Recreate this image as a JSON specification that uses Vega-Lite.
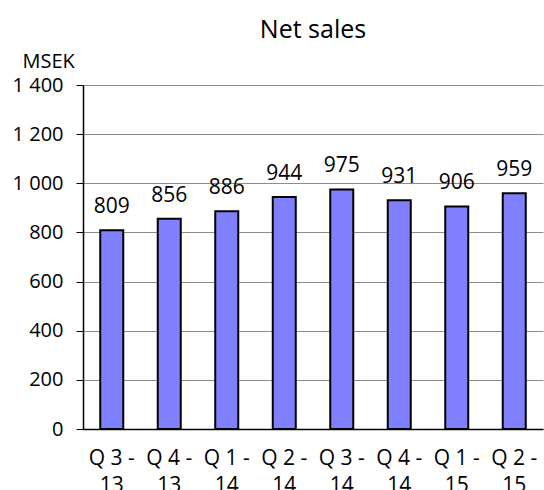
{
  "$schema": "https://vega.github.io/schema/vega-lite/v6.json",
  "autosize": "none",
  "width": 460,
  "height": 344,
  "padding": {"left": 83, "top": 85, "right": 1, "bottom": 61},
  "background": "white",
  "title": {"text": "Net sales", "font": "Open Sans", "fontSize": 25, "fontWeight": 500, "color": "#000000", "anchor": "middle", "frame": "group", "offset": 8},
  "data": {"values": [
    {"quarter": "Q 3 -|13", "sales": 809},
    {"quarter": "Q 4 -|13", "sales": 856},
    {"quarter": "Q 1 -|14", "sales": 886},
    {"quarter": "Q 2 -|14", "sales": 944},
    {"quarter": "Q 3 -|14", "sales": 975},
    {"quarter": "Q 4 -|14", "sales": 931},
    {"quarter": "Q 1 -|15", "sales": 906},
    {"quarter": "Q 2 -|15", "sales": 959}
  ]},
  "encoding": {
    "x": {"field": "quarter", "type": "nominal", "sort": null,
      "scale": {"paddingInner": 0.6, "paddingOuter": 0.3},
      "axis": {"title": null, "labelAngle": 0, "labelExpr": "split(datum.label, '|')", "labelFont": "Open Sans", "labelFontSize": 21, "labelColor": "#000000", "labelLineHeight": 27, "labelPadding": 18, "ticks": false, "domainColor": "#000000", "domainWidth": 1.5, "labelBaseline": "top"}},
    "y": {"field": "sales", "type": "quantitative",
      "scale": {"domain": [0, 1400]},
      "axis": {"values": [0, 200, 400, 600, 800, 1000, 1200, 1400], "labelExpr": "replace(datum.label, ',', ' ')", "title": "MSEK", "titleAngle": 0, "titleAlign": "left", "titleBaseline": "alphabetic", "titleX": -61, "titleY": -18, "titleFont": "Open Sans", "titleFontSize": 20, "titleFontWeight": "normal", "titleColor": "#000000", "labelFont": "Open Sans", "labelFontSize": 20, "labelColor": "#000000", "labelPadding": 13, "tickSize": 7, "tickColor": "#000000", "domainColor": "#000000", "domainWidth": 1.5, "grid": true, "gridColor": "#8c8c8c", "gridWidth": 1}}
  },
  "layer": [
    {"mark": {"type": "bar", "color": "#8080ff", "stroke": "#000000", "strokeWidth": 2}},
    {"mark": {"type": "text", "font": "Open Sans", "fontSize": 21, "baseline": "alphabetic", "dy": -17, "color": "#000000"},
     "encoding": {"text": {"field": "sales", "type": "quantitative"}}}
  ],
  "config": {"view": {"stroke": null}}
}
